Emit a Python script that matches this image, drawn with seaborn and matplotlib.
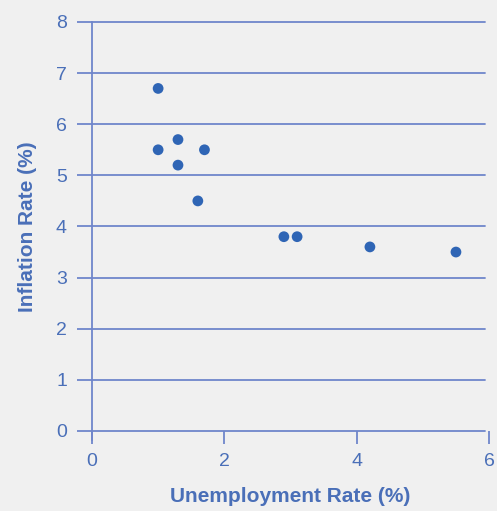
import matplotlib.pyplot as plt
import seaborn as sns

unemployment = [1.0, 1.0, 1.3, 1.3, 1.7, 1.6, 2.9, 3.1, 4.2, 5.5]
inflation = [6.7, 5.5, 5.7, 5.2, 5.5, 4.5, 3.8, 3.8, 3.6, 3.5]
x_ticks = [0, 2, 4, 6]
y_ticks = [0, 1, 2, 3, 4, 5, 6, 7, 8]

bg = "#f0f0f0"
line_col = "#6f86cb"
dot_col = "#2f65b5"
text_col = "#4a6fb8"

sns.set_style("white")
plt.rcParams["font.family"] = ["Liberation Sans", "DejaVu Sans"]

fig = plt.figure(figsize=(4.97, 5.11), dpi=100, facecolor=bg)
ax = fig.add_axes([0.185, 0.1566, 0.799, 0.8004], facecolor=bg)

sns.scatterplot(x=unemployment, y=inflation, color=dot_col, s=60,
                edgecolor="none", ax=ax, zorder=3)

ax.set_xlim(0, 6)
ax.set_ylim(0, 8)
ax.set_xticks(x_ticks)
ax.set_yticks(y_ticks)

for yv in y_ticks:
    ax.axhline(yv, color=line_col, linewidth=1.3, zorder=1, xmax=0.99)

for s in ["top", "right", "bottom"]:
    ax.spines[s].set_visible(False)
ax.spines["left"].set_color(line_col)
ax.spines["left"].set_linewidth(1.3)
ax.spines["left"].set_bounds(-0.18, 8)
ax.spines["left"].set_zorder(2)

ax.tick_params(axis="y", left=True, length=11, width=1.3, color=line_col,
               labelcolor=text_col, labelsize=14, pad=7)
ax.tick_params(axis="x", bottom=True, length=9, width=1.3, color=line_col,
               labelcolor=text_col, labelsize=14, pad=7, direction="out")

ax.set_xlabel("Unemployment Rate (%)", color=text_col, fontsize=15,
              fontweight="bold", labelpad=12)
ax.set_ylabel("Inflation Rate (%)", color=text_col, fontsize=15,
              fontweight="bold", labelpad=14)
for c in ax.get_children():
    c.set_clip_on(False)

fig.savefig("out.png", dpi=100, facecolor=bg)
